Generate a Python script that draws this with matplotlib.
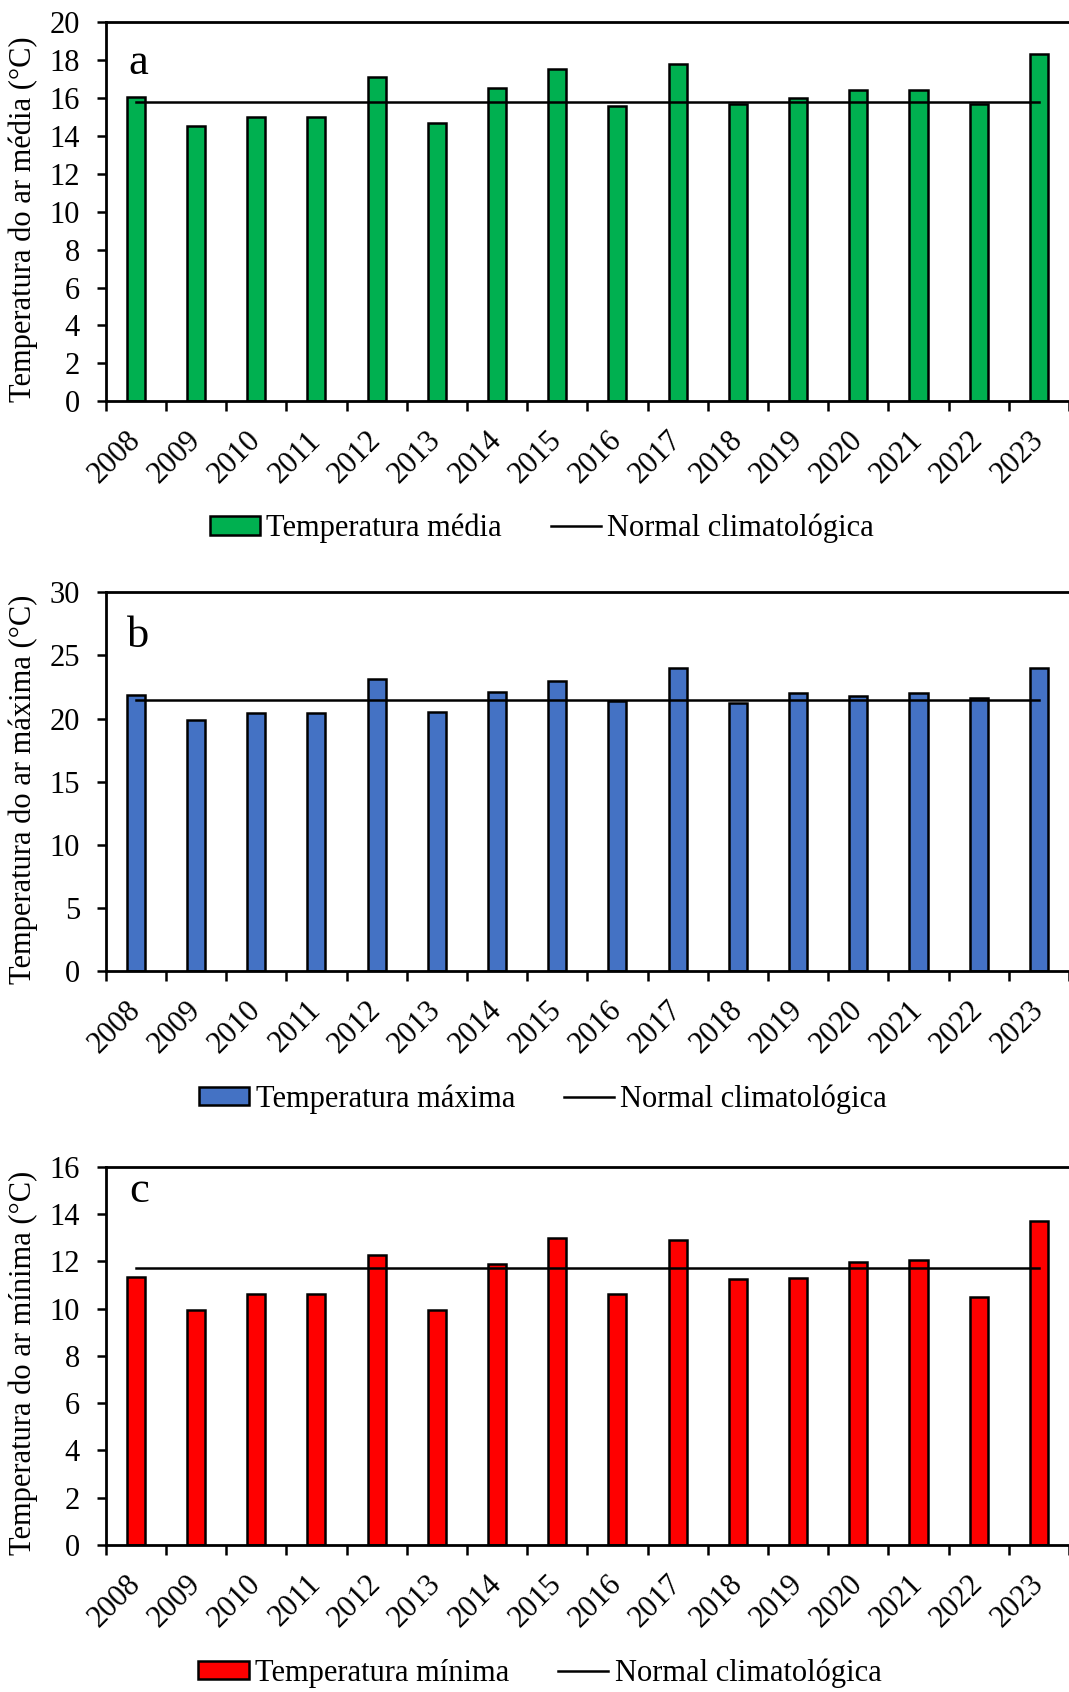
import numpy as np
import matplotlib
matplotlib.use("Agg")
import matplotlib.pyplot as plt
from matplotlib.patches import Patch
from matplotlib.lines import Line2D

plt.rcParams['font.family'] = ['Liberation Serif', 'DejaVu Serif']

years = ['2008', '2009', '2010', '2011', '2012', '2013', '2014', '2015',
         '2016', '2017', '2018', '2019', '2020', '2021', '2022', '2023']

t_media = [16.05, 14.5, 15.0, 15.0, 17.1, 14.7, 16.5, 17.5,
           15.55, 17.8, 15.7, 16.0, 16.4, 16.4, 15.7, 18.3]
normal_media = 15.8

t_maxima = [21.9, 19.85, 20.4, 20.4, 23.1, 20.5, 22.1, 23.0,
            21.4, 24.0, 21.2, 22.0, 21.75, 22.05, 21.6, 24.0]
normal_maxima = 21.5

t_minima = [11.35, 9.95, 10.6, 10.6, 12.25, 9.93, 11.9, 13.0,
            10.6, 12.9, 11.25, 11.3, 11.95, 12.05, 10.5, 13.7]
normal_minima = 11.7

panels = [
    dict(vals=t_media, normal=normal_media, color='#00B050', letter='a',
         ylabel='Temperatura do ar média (°C)', ymax=20, ystep=2,
         bar_label='Temperatura média', rect=[0.0989, 0.7628, 0.9011, 0.2242],
         letter_xy=(0.024, 0.863), leg_xy=(0.507, 0.6876)),
    dict(vals=t_maxima, normal=normal_maxima, color='#4472C4', letter='b',
         ylabel='Temperatura do ar máxima (°C)', ymax=30, ystep=5,
         bar_label='Temperatura máxima', rect=[0.0989, 0.4260, 0.9011, 0.2240],
         letter_xy=(0.022, 0.856), leg_xy=(0.508, 0.3505)),
    dict(vals=t_minima, normal=normal_minima, color='#FF0000', letter='c',
         ylabel='Temperatura do ar mínima (°C)', ymax=16, ystep=2,
         bar_label='Temperatura mínima', rect=[0.0989, 0.0869, 0.9011, 0.2236],
         letter_xy=(0.024, 0.9075), leg_xy=(0.505, 0.0112)),
]

fig = plt.figure(figsize=(10.69, 16.92), dpi=100)

x = np.arange(len(years))
for p in panels:
    ax = fig.add_axes(p['rect'])
    ax.bar(x, p['vals'], width=0.30, color=p['color'], edgecolor='black',
           linewidth=1.8, zorder=2)
    ax.plot([x[0], x[-1]], [p['normal'], p['normal']], color='black',
            linewidth=1.8, zorder=3)
    ax.set_xlim(-0.5, 15.37)
    ax.set_ylim(0, p['ymax'])
    ax.set_yticks(np.arange(0, p['ymax'] + 0.01, p['ystep']))
    ax.set_xticks(x)
    ax.set_xticklabels(years, rotation=45, ha='right', va='center',
                       rotation_mode='anchor', fontsize=22)
    ax.set_xticks(np.arange(-0.5, 16, 1), minor=True)
    ax.tick_params(axis='x', which='major', length=0, pad=25)
    ax.tick_params(axis='x', which='minor', length=7, width=1.8,
                   direction='out', color='black')
    ax.tick_params(axis='y', length=6.5, width=1.8, direction='out',
                   labelsize=22, pad=12)
    for s in ['left', 'bottom', 'top']:
        ax.spines[s].set_linewidth(2.0)
        ax.spines[s].set_color('black')
    ax.spines['right'].set_visible(False)
    ax.set_ylabel(p['ylabel'], fontsize=22, va='center')
    ax.yaxis.set_label_coords(-0.0858, 0.48)
    ax.text(p['letter_xy'][0], p['letter_xy'][1], p['letter'],
            transform=ax.transAxes, fontsize=32, va='baseline', ha='left')
    handles = [Patch(facecolor=p['color'], edgecolor='black', linewidth=1.8),
               Line2D([0], [0], color='black', linewidth=1.8)]
    fig.legend(handles, [p['bar_label'], 'Normal climatológica'],
               loc='center', bbox_to_anchor=p['leg_xy'], ncol=2,
               frameon=False, fontsize=22, handlelength=1.65,
               handleheight=0.55, handletextpad=0.2, columnspacing=1.6,
               borderpad=0, borderaxespad=0)

fig.savefig('out.png', dpi=100)
